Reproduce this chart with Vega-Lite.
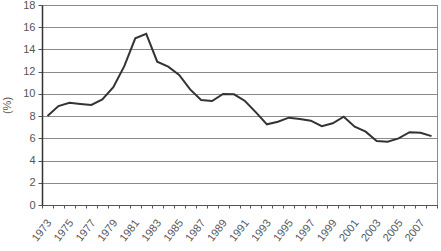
{
  "$schema": "https://vega.github.io/schema/vega-lite/v6.json",
  "autosize": {"type": "none"},
  "width": 395,
  "height": 200,
  "padding": {"left": 42, "top": 5, "right": 4, "bottom": 46},
  "background": "white",
  "config": {
    "font": "Liberation Sans",
    "view": {"stroke": "#8a8a8a", "strokeWidth": 1}
  },
  "data": {"values": [
    {"year": 1973, "rate": 8.0},
    {"year": 1974, "rate": 8.9},
    {"year": 1975, "rate": 9.2},
    {"year": 1976, "rate": 9.1},
    {"year": 1977, "rate": 9.0},
    {"year": 1978, "rate": 9.5},
    {"year": 1979, "rate": 10.6},
    {"year": 1980, "rate": 12.5},
    {"year": 1981, "rate": 15.0},
    {"year": 1982, "rate": 15.4},
    {"year": 1983, "rate": 12.9},
    {"year": 1984, "rate": 12.45},
    {"year": 1985, "rate": 11.7},
    {"year": 1986, "rate": 10.4},
    {"year": 1987, "rate": 9.45},
    {"year": 1988, "rate": 9.36},
    {"year": 1989, "rate": 10.0},
    {"year": 1990, "rate": 9.96},
    {"year": 1991, "rate": 9.36},
    {"year": 1992, "rate": 8.34},
    {"year": 1993, "rate": 7.26},
    {"year": 1994, "rate": 7.5},
    {"year": 1995, "rate": 7.86},
    {"year": 1996, "rate": 7.74},
    {"year": 1997, "rate": 7.59},
    {"year": 1998, "rate": 7.1},
    {"year": 1999, "rate": 7.35},
    {"year": 2000, "rate": 7.95},
    {"year": 2001, "rate": 7.05},
    {"year": 2002, "rate": 6.6},
    {"year": 2003, "rate": 5.76},
    {"year": 2004, "rate": 5.7},
    {"year": 2005, "rate": 6.0},
    {"year": 2006, "rate": 6.55},
    {"year": 2007, "rate": 6.5},
    {"year": 2008, "rate": 6.2}
  ]},
  "mark": {"type": "line", "color": "#333333", "strokeWidth": 2},
  "encoding": {
    "x": {
      "field": "year",
      "type": "ordinal",
      "scale": {"type": "band", "paddingInner": 0, "paddingOuter": 0},
      "axis": {
        "title": null,
        "labelAngle": -52,
        "labelAlign": "right",
        "labelBaseline": "top",
        "labelOverlap": false,
        "labelExpr": "toNumber(datum.value) % 2 === 1 ? datum.label : ''",
        "labelFontSize": 11,
        "labelColor": "#555555",
        "labelPadding": 9,
        "labelOffset": -3,
        "tickBand": "extent",
        "tickSize": 3,
        "tickColor": "#555555",
        "domainColor": "#555555",
        "grid": false
      }
    },
    "y": {
      "field": "rate",
      "type": "quantitative",
      "scale": {"domain": [0, 18], "nice": false},
      "axis": {
        "title": "(%)",
        "titleFontWeight": "normal",
        "titleFontSize": 11,
        "titleColor": "#555555",
        "titlePadding": 10,
        "values": [0, 2, 4, 6, 8, 10, 12, 14, 16, 18],
        "labelFontSize": 11,
        "labelColor": "#555555",
        "labelPadding": 3,
        "tickSize": 4,
        "tickColor": "#555555",
        "domainColor": "#333333",
        "domainWidth": 1.5,
        "grid": true,
        "gridColor": "#8a8a8a",
        "gridWidth": 1
      }
    }
  }
}
